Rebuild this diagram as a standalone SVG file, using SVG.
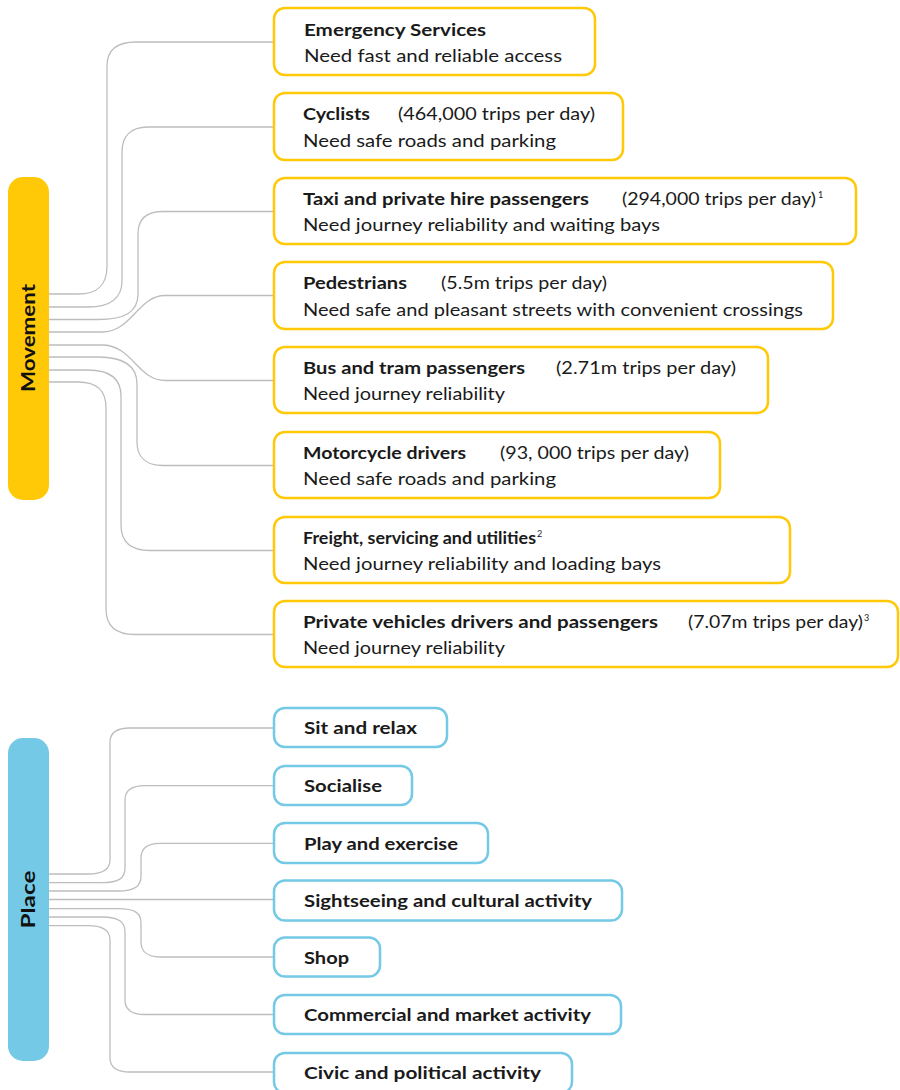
<svg xmlns="http://www.w3.org/2000/svg" width="900" height="1090" viewBox="0 0 900 1090">
<style>
.mv{fill:#ffffff;stroke:#FFC907;stroke-width:2.5}
.pl{fill:#ffffff;stroke:#74C9E6;stroke-width:2.5}
text{font-family:Lato,"Liberation Sans",sans-serif;fill:#1a1a1a;font-size:17px}
.b{font-weight:bold}
.sup{font-size:9px}
.lbl{font-weight:bold;font-size:18px;fill:#111}
.c path{fill:none;stroke:#BDBDBD;stroke-width:1.3}
</style>
<rect width="900" height="1090" fill="#ffffff"/>
<g id="connectors" class="c">
<path d="M49,294 H78 C98,294 107,285 107,266 V66 C107,50 116,42 136,42 H274"/>
<path d="M49,307 H88 C110,307 122,298 122,281 V152 C122,136 131,127 148,127 H274"/>
<path d="M49,319.5 H98 C125,319.5 138,312 138,294 V234 C138,220 146,211.5 163,211.5 H274"/>
<path d="M49,332 H102 C132,332 138,295.5 165,295.5 H274"/>
<path d="M49,345 H102 C132,345 138,380.5 165,380.5 H274"/>
<path d="M49,357 H98 C125,357 137,366 137,384 V442 C137,457 146,465.5 163,465.5 H274"/>
<path d="M49,370 H88 C110,370 121,379 121,396 V525 C121,542 131,550.5 150,550.5 H274"/>
<path d="M49,382 H78 C98,382 106,391 106,408 V609 C106,626 116,634.5 135,634.5 H274"/>
<path d="M49,874 H88 C104,874 110,869 110,860 V742 C110,733 116,728 130,728 H274"/>
<path d="M49,882.7 H102 C119,882.7 125,878 125,868 V800 C125,791 131,785.7 145,785.7 H274"/>
<path d="M49,891 H118 C135,891 141,886 141,876 V858 C141,849 147,843.3 160,843.3 H274"/>
<path d="M49,899.5 H274"/>
<path d="M49,908.7 H118 C135,908.7 141,913 141,923 V942 C141,951 147,957 160,957 H274"/>
<path d="M49,917 H102 C119,917 125,922 125,932 V1000 C125,1009 131,1014.5 145,1014.5 H274"/>
<path d="M49,925.7 H88 C104,925.7 110,931 110,940 V1058 C110,1067 116,1072 130,1072 H274"/>
</g>
<g id="movement">
<rect x="8" y="177" width="41" height="323" rx="15" fill="#FFC907"/>
<text class="lbl" transform="translate(35,338) rotate(-90)" text-anchor="middle" textLength="108" lengthAdjust="spacingAndGlyphs">Movement</text>
</g>
<g id="place">
<rect x="8" y="738" width="41" height="323" rx="15" fill="#74C9E6"/>
<text class="lbl" transform="translate(35,899.5) rotate(-90)" text-anchor="middle" textLength="58" lengthAdjust="spacingAndGlyphs">Place</text>
</g>
<g id="emergency">
<rect class="mv" x="274" y="8" width="321" height="67" rx="11"/>
<text class="b" x="304" y="36" textLength="182" lengthAdjust="spacingAndGlyphs">Emergency Services</text>
<text x="304" y="62" textLength="258" lengthAdjust="spacingAndGlyphs">Need fast and reliable access</text>
</g>
<g id="cyclists">
<rect class="mv" x="274" y="93" width="349" height="67" rx="11"/>
<text class="b" x="303" y="120" textLength="67" lengthAdjust="spacingAndGlyphs">Cyclists</text>
<text x="398" y="120" textLength="197" lengthAdjust="spacingAndGlyphs">(464,000 trips per day)</text>
<text x="303" y="147" textLength="253" lengthAdjust="spacingAndGlyphs">Need safe roads and parking</text>
</g>
<g id="taxi">
<rect class="mv" x="274" y="178" width="582" height="66" rx="11"/>
<text class="b" x="303" y="205" textLength="286" lengthAdjust="spacingAndGlyphs">Taxi and private hire passengers</text>
<text x="622" y="205" textLength="194" lengthAdjust="spacingAndGlyphs">(294,000 trips per day)</text>
<text class="sup" x="818" y="198">1</text>
<text x="303" y="231" textLength="357" lengthAdjust="spacingAndGlyphs">Need journey reliability and waiting bays</text>
</g>
<g id="pedestrians">
<rect class="mv" x="274" y="262" width="559" height="67" rx="11"/>
<text class="b" x="303" y="289" textLength="104" lengthAdjust="spacingAndGlyphs">Pedestrians</text>
<text x="441" y="289" textLength="166" lengthAdjust="spacingAndGlyphs">(5.5m trips per day)</text>
<text x="303" y="316" textLength="500" lengthAdjust="spacingAndGlyphs">Need safe and pleasant streets with convenient crossings</text>
</g>
<g id="bus">
<rect class="mv" x="274" y="347" width="494" height="66" rx="11"/>
<text class="b" x="303" y="374" textLength="222" lengthAdjust="spacingAndGlyphs">Bus and tram passengers</text>
<text x="556" y="374" textLength="180" lengthAdjust="spacingAndGlyphs">(2.71m trips per day)</text>
<text x="303" y="400" textLength="202" lengthAdjust="spacingAndGlyphs">Need journey reliability</text>
</g>
<g id="motorcycle">
<rect class="mv" x="274" y="432" width="446" height="66" rx="11"/>
<text class="b" x="303" y="459" textLength="163" lengthAdjust="spacingAndGlyphs">Motorcycle drivers</text>
<text x="500" y="459" textLength="189" lengthAdjust="spacingAndGlyphs">(93, 000 trips per day)</text>
<text x="303" y="485" textLength="253" lengthAdjust="spacingAndGlyphs">Need safe roads and parking</text>
</g>
<g id="freight">
<rect class="mv" x="274" y="517" width="516" height="66" rx="11"/>
<text class="b" x="303" y="544" textLength="233" lengthAdjust="spacingAndGlyphs">Freight, servicing and utilities</text>
<text class="sup" x="537" y="537">2</text>
<text x="303" y="570" textLength="358" lengthAdjust="spacingAndGlyphs">Need journey reliability and loading bays</text>
</g>
<g id="private">
<rect class="mv" x="274" y="601" width="624" height="66" rx="11"/>
<text class="b" x="303" y="628" textLength="355" lengthAdjust="spacingAndGlyphs">Private vehicles drivers and passengers</text>
<text x="688" y="628" textLength="175" lengthAdjust="spacingAndGlyphs">(7.07m trips per day)</text>
<text class="sup" x="864" y="621">3</text>
<text x="303" y="654" textLength="202" lengthAdjust="spacingAndGlyphs">Need journey reliability</text>
</g>
<g id="sit">
<rect class="pl" x="274" y="708" width="173" height="39" rx="11"/>
<text class="b" x="304" y="734" textLength="113" lengthAdjust="spacingAndGlyphs">Sit and relax</text>
</g>
<g id="socialise">
<rect class="pl" x="274" y="766" width="138" height="39" rx="11"/>
<text class="b" x="304" y="792" textLength="78" lengthAdjust="spacingAndGlyphs">Socialise</text>
</g>
<g id="play">
<rect class="pl" x="274" y="823" width="214" height="40" rx="11"/>
<text class="b" x="304" y="849.5" textLength="154" lengthAdjust="spacingAndGlyphs">Play and exercise</text>
</g>
<g id="sightseeing">
<rect class="pl" x="274" y="880.5" width="348" height="40" rx="11"/>
<text class="b" x="304" y="907" textLength="288" lengthAdjust="spacingAndGlyphs">Sightseeing and cultural activity</text>
</g>
<g id="shop">
<rect class="pl" x="274" y="937.5" width="106" height="39" rx="11"/>
<text class="b" x="304" y="964" textLength="45" lengthAdjust="spacingAndGlyphs">Shop</text>
</g>
<g id="commercial">
<rect class="pl" x="274" y="995" width="347" height="39" rx="11"/>
<text class="b" x="304" y="1021" textLength="287" lengthAdjust="spacingAndGlyphs">Commercial and market activity</text>
</g>
<g id="civic">
<rect class="pl" x="274" y="1053" width="298" height="40" rx="11"/>
<text class="b" x="304" y="1079" textLength="237" lengthAdjust="spacingAndGlyphs">Civic and political activity</text>
</g>
</svg>
